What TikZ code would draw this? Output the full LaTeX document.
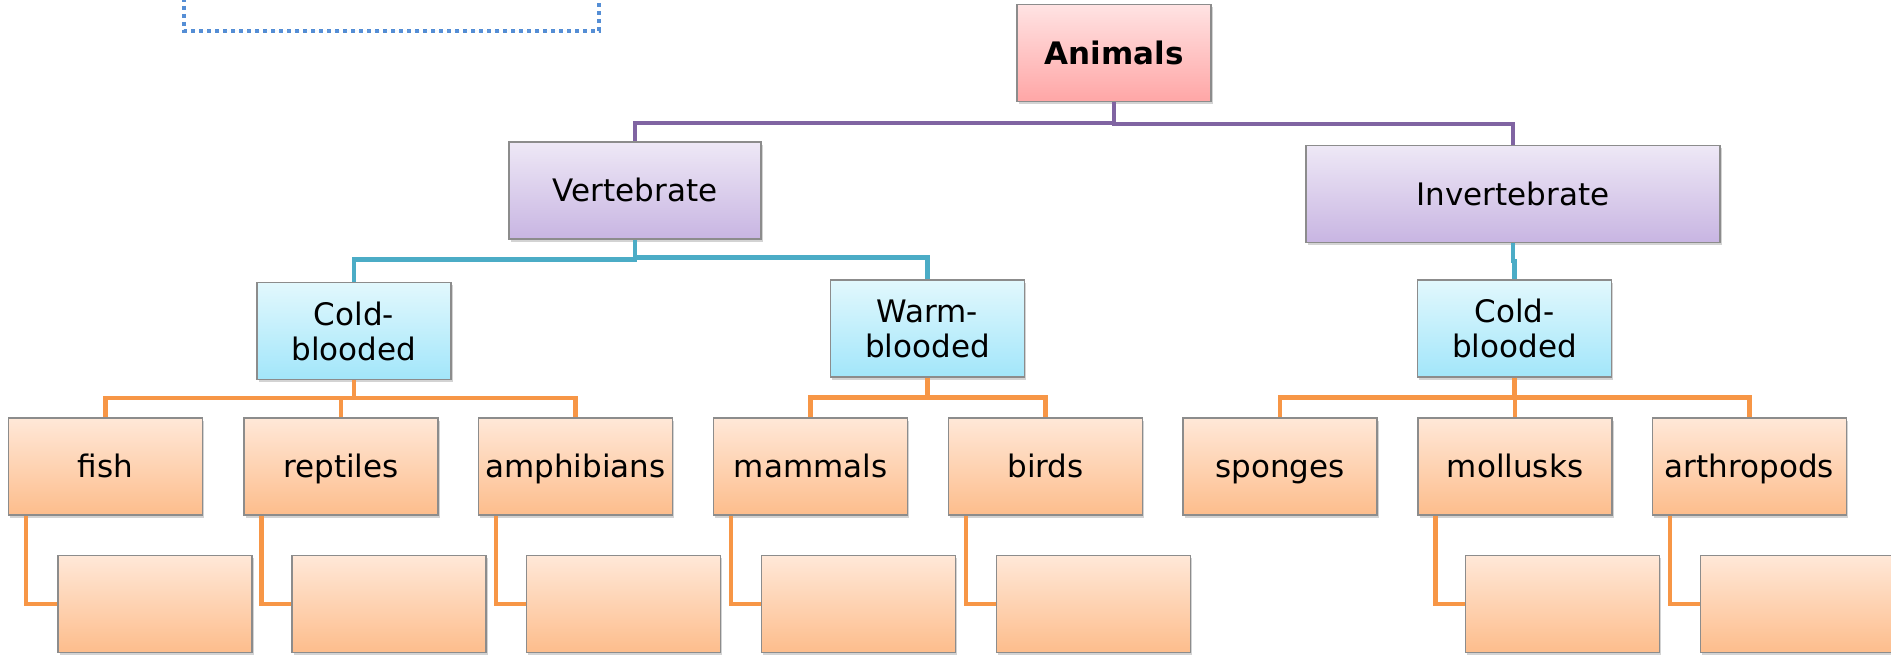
\documentclass[tikz,border=0pt]{standalone}
\usepackage{fontspec}
\setmainfont{DejaVu Sans}
\usetikzlibrary{calc,shadows}
\definecolor{rosetop}{HTML}{FFE3E3}
\definecolor{rosebot}{HTML}{FFA6A6}
\definecolor{liltop}{HTML}{EEE8F6}
\definecolor{lilbot}{HTML}{C8B5E2}
\definecolor{skytop}{HTML}{E2F8FD}
\definecolor{skybot}{HTML}{A2E6FA}
\definecolor{peachtop}{HTML}{FFE8D8}
\definecolor{peachbot}{HTML}{FDBD8C}
\definecolor{plum}{HTML}{8064A2}
\definecolor{aqua}{HTML}{4BACC6}
\definecolor{tang}{HTML}{F79646}
\definecolor{dotblue}{HTML}{558ED5}
\tikzset{
  box/.style={draw=gray!90,line width=.7pt,inner sep=0pt,minimum height=48.5pt,minimum width=97pt,
    align=center,font=\fontsize{15.5}{17.5}\selectfont,
    drop shadow={shadow xshift=.8pt,shadow yshift=-1.5pt,opacity=.35}},
  oneline/.style={text height=14pt,text depth=2.5pt},
  rosebox/.style={box,oneline,top color=rosetop,bottom color=rosebot,font=\fontsize{15.5}{17.5}\selectfont\bfseries},
  lilbox/.style={box,oneline,top color=liltop,bottom color=lilbot},
  skybox/.style={box,top color=skytop,bottom color=skybot},
  peachbox/.style={box,oneline,top color=peachtop,bottom color=peachbot},
  plumline/.style={plum,line width=2.2pt},
  aqualine/.style={aqua,line width=2.2pt},
  tangline/.style={tang,line width=2.2pt}
}
\begin{document}
\begin{tikzpicture}[x=.5pt,y=-.5pt]
\useasboundingbox (0,0) rectangle (1891,656);
% dotted frame cut by the top edge
\draw[dotblue,line width=2pt,dash pattern=on 2pt off 2pt] (184,-10)--(184,31)--(599,31)--(599,-10);
% levels
\node[rosebox] (animals) at (1114,53) {Animals};
\node[lilbox,minimum width=126pt] (vert) at (635,190.5) {Vertebrate};
\node[lilbox,minimum width=207pt] (invert) at (1513,194) {Invertebrate};
\node[skybox] (coldv) at (354,331) {Cold-\\blooded};
\node[skybox] (warm) at (927.5,328.5) {Warm-\\blooded};
\node[skybox] (coldi) at (1514.5,328.5) {Cold-\\blooded};
\node[peachbox] (fish) at (105.5,466.5) {fish};
\node[peachbox] (reptiles) at (341,466.5) {reptiles};
\node[peachbox] (amphibians) at (575.5,466.5) {amphibians};
\node[peachbox] (mammals) at (810.5,466.5) {mammals};
\node[peachbox] (birds) at (1045.5,466.5) {birds};
\node[peachbox] (sponges) at (1280,466.5) {sponges};
\node[peachbox] (mollusks) at (1515,466.5) {mollusks};
\node[peachbox] (arthropods) at (1749.5,466.5) {arthropods};
\foreach \leaf/\cx in {fish/155,reptiles/389,amphibians/623.5,mammals/858.5,birds/1093.5,mollusks/1562.5,arthropods/1797.5}
  \node[peachbox] (\leaf-x) at (\cx,604) {};
% connectors
\draw[plumline] (animals.south) -- ++(0,21) -| (vert.north);
\draw[plumline] (animals.south) -- ++(0,22) -| (invert.north);
\draw[aqualine] (vert.south) -- ++(0,20) -| (coldv.north);
\draw[aqualine] (vert.south) -- ++(0,18) -| (warm.north);
\draw[aqualine] (invert.south) -- ++(0,18) -| (coldi.north);
\foreach \leaf in {fish,reptiles,amphibians} \draw[tangline] (coldv.south) -- ++(0,18) -| (\leaf.north);
\foreach \leaf in {mammals,birds} \draw[tangline] (warm.south) -- ++(0,20) -| (\leaf.north);
\foreach \leaf in {sponges,mollusks,arthropods} \draw[tangline] (coldi.south) -- ++(0,20) -| (\leaf.north);
\foreach \leaf in {fish,reptiles,amphibians,mammals,birds,mollusks,arthropods}
  \draw[tangline] ([xshift=9pt]\leaf.south west) |- (\leaf-x.west);
\end{tikzpicture}
\end{document}
